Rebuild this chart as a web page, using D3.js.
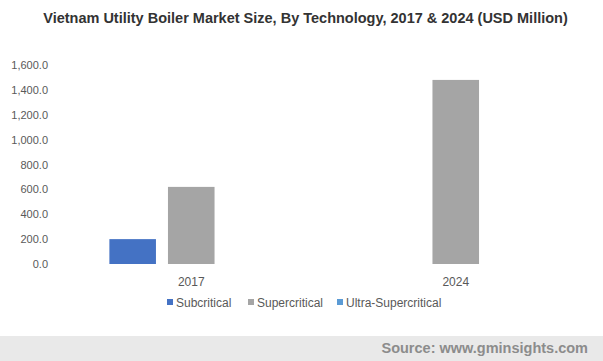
<!DOCTYPE html>
<html>
<head>
<meta charset="utf-8">
<script src="https://cdn.jsdelivr.net/npm/d3@7"></script>
<style>
  body { margin: 0; background: #fff; }
  #chart { width: 603px; height: 361px; }
</style>
</head>
<body>
<div id="chart"></div>
<script>
const years = ["2017", "2024"];
const series = ["Subcritical", "Supercritical", "Ultra-Supercritical"];
const subcritical = [200, 0];
const supercritical = [620, 1480];
const ultraSupercritical = [0, 0];
const yTicks = [0, 200, 400, 600, 800, 1000, 1200, 1400, 1600];
const colors = ["#4472C4", "#A5A5A5", "#5B9BD5"];

const values = [subcritical, supercritical, ultraSupercritical];
const data = years.map((year, i) => ({
    year,
    items: series.map((s, k) => ({ key: s, value: values[k][i] }))
}));

const width = 603;
const height = 361;
const marginLeft = 59;
const marginRight = 15;
const marginTop = 65;
const plotBottom = 264;

const svg = d3.select("#chart")
    .append("svg")
    .attr("width", width)
    .attr("height", height)
    .style("font-family", "Arial, 'Liberation Sans', sans-serif");

// title
svg.append("text")
    .attr("x", width / 2 + 4)
    .attr("y", 23)
    .attr("text-anchor", "middle")
    .attr("font-size", "14.5px")
    .attr("font-weight", "bold")
    .attr("fill", "#333")
    .text("Vietnam Utility Boiler Market Size, By Technology, 2017 & 2024 (USD Million)");

const x0 = d3.scaleBand()
    .domain(years)
    .range([marginLeft, width - marginRight]);

const x1 = d3.scaleBand()
    .domain(series)
    .range([0, x0.bandwidth()])
    .paddingInner(0.205)
    .paddingOuter(0.86);

const y = d3.scaleLinear()
    .domain([0, 1600])
    .range([plotBottom, marginTop]);

// y axis, labels only
svg.append("g")
    .attr("transform", `translate(${marginLeft - 11},0)`)
    .call(d3.axisLeft(y).tickValues(yTicks).tickSize(0).tickPadding(0)
        .tickFormat(d => d3.format(",.1f")(d)))
    .call(g => g.select(".domain").remove())
    .call(g => g.selectAll("text")
        .attr("font-size", "11px")
        .attr("fill", "#595959")
        .attr("font-family", "Arial, 'Liberation Sans', sans-serif"));

// bars
const groups = svg.append("g")
    .selectAll("g")
    .data(data)
    .join("g")
    .attr("transform", d => `translate(${x0(d.year)},0)`);

groups.selectAll("rect")
    .data(d => d.items.filter(e => e.value > 0))
    .join("rect")
    .attr("x", d => x1(d.key))
    .attr("y", d => y(d.value))
    .attr("width", x1.bandwidth())
    .attr("height", d => y(0) - y(d.value))
    .attr("fill", d => colors[series.indexOf(d.key)]);

// x axis, labels only
svg.append("g")
    .attr("transform", `translate(0,${plotBottom})`)
    .call(d3.axisBottom(x0).tickSize(0).tickPadding(13))
    .call(g => g.select(".domain").remove())
    .call(g => g.selectAll("text")
        .attr("font-size", "12px")
        .attr("fill", "#595959")
        .attr("font-family", "Arial, 'Liberation Sans', sans-serif"));

// legend
const legendX = [167, 248, 337];
const legend = svg.append("g")
    .selectAll("g")
    .data(series)
    .join("g")
    .attr("transform", (d, i) => `translate(${legendX[i]},299)`);

legend.append("rect")
    .attr("width", 6)
    .attr("height", 6)
    .attr("fill", (d, i) => colors[i]);

legend.append("text")
    .attr("x", 9)
    .attr("y", 7.5)
    .attr("font-size", "12px")
    .attr("fill", "#595959")
    .text(d => d);

// footer
svg.append("rect")
    .attr("x", 0)
    .attr("y", 336)
    .attr("width", width)
    .attr("height", height - 336)
    .attr("fill", "#e9e9e9");

svg.append("text")
    .attr("x", 588)
    .attr("y", 353)
    .attr("text-anchor", "end")
    .attr("font-size", "14.5px")
    .attr("font-weight", "bold")
    .attr("fill", "#8c8c8c")
    .text("Source: www.gminsights.com");
</script>
</body>
</html>
